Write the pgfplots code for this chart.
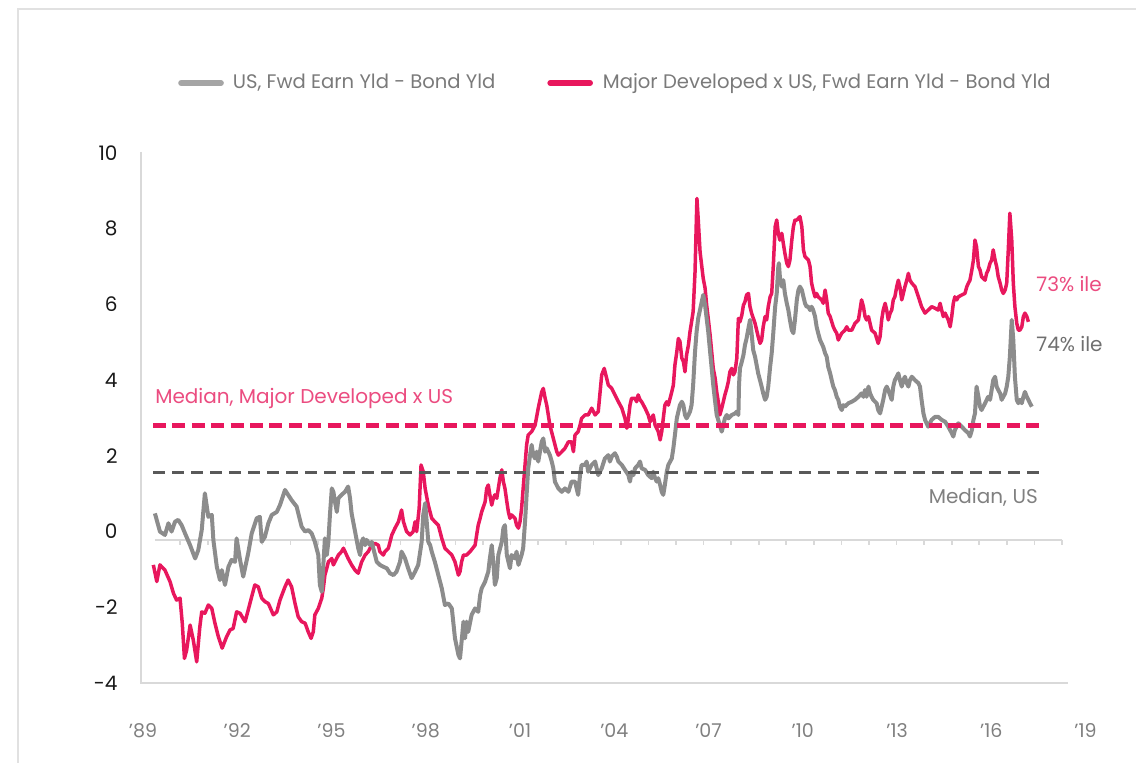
\documentclass[border=0pt]{standalone}
\usepackage{fontspec}
\setmainfont{Poppins}
\usepackage{pgfplots}
\usepackage{pgfplotstable}
\pgfplotsset{compat=1.18}
\definecolor{pinkc}{HTML}{E8175D}
\definecolor{grayc}{HTML}{8C8C8C}
\definecolor{darkgrayc}{HTML}{595959}
\definecolor{pinktext}{HTML}{EB4C80}
\definecolor{graytext}{HTML}{6F6F6F}
\definecolor{ticktext}{HTML}{808080}
\definecolor{framec}{HTML}{D9D9D9}
\definecolor{legendgray}{HTML}{A5A5A5}
\definecolor{legendtext}{HTML}{7A7A7A}

\pgfplotstableread{
x y
1989.38 0.48
1989.54 0.00
1989.70 -0.09
1989.81 0.22
1989.91 0.00
1990.02 0.26
1990.12 0.31
1990.23 0.17
1990.34 -0.05
1990.50 -0.36
1990.66 -0.71
1990.76 -0.49
1990.87 0.04
1990.97 1.01
1991.08 0.39
1991.19 0.44
1991.24 -0.22
1991.35 -0.93
1991.45 -1.28
1991.51 -1.02
1991.61 -1.41
1991.72 -0.93
1991.82 -0.75
1991.93 -0.80
1991.98 -0.18
1992.09 -0.75
1992.19 -1.19
1992.35 -0.57
1992.46 -0.05
1992.62 0.35
1992.72 0.39
1992.78 -0.27
1992.88 -0.14
1992.99 0.22
1993.10 0.44
1993.26 0.52
1993.36 0.70
1993.52 1.10
1993.62 0.97
1993.73 0.83
1993.89 0.66
1994.05 0.13
1994.16 0.00
1994.26 0.04
1994.37 -0.05
1994.47 -0.27
1994.58 -0.62
1994.63 -1.41
1994.69 -1.59
1994.74 -0.88
1994.79 -0.18
1994.85 -0.62
1994.90 -0.27
1994.95 0.44
1995.01 1.14
1995.06 1.05
1995.11 0.79
1995.17 0.52
1995.22 0.88
1995.32 0.97
1995.43 1.05
1995.53 1.19
1995.59 0.88
1995.64 0.48
1995.75 0.00
1995.85 -0.44
1995.91 -0.62
1995.96 -0.27
1996.01 -0.18
1996.07 -0.36
1996.12 -0.22
1996.23 -0.36
1996.28 -0.27
1996.33 -0.44
1996.44 -0.80
1996.54 -0.88
1996.65 -0.93
1996.76 -0.97
1996.86 -1.10
1996.97 -1.15
1997.07 -1.06
1997.18 -0.80
1997.23 -0.53
1997.34 -0.71
1997.44 -0.97
1997.55 -1.23
1997.66 -1.06
1997.76 -0.88
1997.87 -0.27
1997.92 0.44
1997.98 0.75
1998.03 0.26
1998.08 -0.27
1998.14 -0.36
1998.19 -0.53
1998.29 -0.80
1998.40 -1.15
1998.51 -1.50
1998.61 -1.94
1998.72 -1.90
1998.83 -2.03
1998.93 -2.82
1999.04 -3.26
1999.09 -3.35
1999.14 -2.91
1999.20 -2.38
1999.25 -2.82
1999.30 -2.38
1999.35 -2.65
1999.46 -2.20
1999.57 -2.03
1999.67 -2.12
1999.73 -1.68
1999.78 -1.50
1999.89 -1.32
1999.99 -1.06
2000.04 -0.71
2000.10 -0.36
2000.15 -0.80
2000.20 -1.41
2000.26 -1.23
2000.31 -0.62
2000.42 -0.27
2000.47 0.09
2000.52 0.17
2000.58 -0.62
2000.68 -0.97
2000.73 -0.62
2000.84 -0.71
2000.89 -0.53
2000.95 -0.88
2001.05 -0.62
2001.10 -0.44
2001.16 0.26
2001.21 0.97
2001.26 1.67
2001.32 2.02
2001.37 2.29
2001.42 2.02
2001.48 1.93
2001.53 2.11
2001.58 1.85
2001.69 2.37
2001.74 2.46
2001.80 2.11
2001.85 2.20
2001.95 2.02
2002.01 1.85
2002.06 1.67
2002.11 1.32
2002.22 1.14
2002.33 1.05
2002.43 1.14
2002.54 1.05
2002.64 1.32
2002.75 1.32
2002.85 0.97
2002.91 1.49
2002.96 1.76
2003.07 1.76
2003.12 1.85
2003.17 1.58
2003.28 1.76
2003.39 1.85
2003.49 1.49
2003.60 1.67
2003.70 1.93
2003.81 2.02
2003.86 1.85
2003.92 1.98
2004.02 2.07
2004.08 1.98
2004.13 1.85
2004.24 1.76
2004.34 1.63
2004.45 1.49
2004.50 1.32
2004.55 1.58
2004.61 1.49
2004.66 1.67
2004.76 1.76
2004.82 1.85
2004.87 1.67
2004.98 1.63
2005.08 1.49
2005.19 1.41
2005.24 1.58
2005.30 1.41
2005.35 1.32
2005.40 1.41
2005.46 1.23
2005.51 1.05
2005.56 0.97
2005.61 1.23
2005.67 1.58
2005.72 1.76
2005.83 1.93
2005.88 2.20
2005.93 2.55
2005.99 2.99
2006.04 3.17
2006.09 3.34
2006.15 3.43
2006.20 3.34
2006.25 3.08
2006.30 2.99
2006.36 3.08
2006.41 3.17
2006.46 3.34
2006.51 3.87
2006.57 4.75
2006.62 5.28
2006.67 5.63
2006.76 5.98
2006.83 6.25
2006.89 5.98
2006.94 5.63
2006.99 5.28
2007.05 4.75
2007.10 4.31
2007.15 3.87
2007.21 3.43
2007.26 3.08
2007.36 2.81
2007.42 2.64
2007.47 2.81
2007.52 2.99
2007.58 3.08
2007.63 2.99
2007.74 3.08
2007.84 3.12
2007.90 3.17
2007.95 3.08
2007.97 3.87
2008.00 4.31
2008.06 4.49
2008.11 4.66
2008.16 4.93
2008.21 5.10
2008.27 5.37
2008.32 5.59
2008.37 5.24
2008.42 4.80
2008.48 4.62
2008.58 4.18
2008.69 3.83
2008.74 3.65
2008.80 3.48
2008.85 3.56
2008.90 3.83
2008.96 4.35
2009.01 4.71
2009.06 5.24
2009.12 5.94
2009.17 6.29
2009.22 7.00
2009.24 7.09
2009.27 6.73
2009.33 6.47
2009.38 6.64
2009.43 6.29
2009.49 6.03
2009.54 5.85
2009.59 5.59
2009.65 5.32
2009.70 5.24
2009.75 5.59
2009.81 6.12
2009.86 6.38
2009.91 6.47
2009.97 6.38
2010.02 6.20
2010.07 6.03
2010.12 5.94
2010.18 5.94
2010.23 5.85
2010.28 5.94
2010.33 5.85
2010.39 5.68
2010.44 5.41
2010.49 5.24
2010.55 5.06
2010.65 4.88
2010.71 4.71
2010.76 4.62
2010.81 4.35
2010.87 4.18
2010.92 4.00
2010.97 3.83
2011.02 3.74
2011.08 3.56
2011.13 3.48
2011.18 3.30
2011.24 3.21
2011.29 3.34
2011.34 3.30
2011.45 3.39
2011.56 3.43
2011.66 3.48
2011.77 3.56
2011.87 3.65
2011.93 3.56
2011.98 3.74
2012.03 3.56
2012.09 3.83
2012.14 3.65
2012.19 3.56
2012.24 3.48
2012.35 3.39
2012.40 3.21
2012.46 3.12
2012.51 3.30
2012.56 3.48
2012.62 3.74
2012.67 3.83
2012.72 3.74
2012.83 3.48
2012.88 3.83
2012.93 4.00
2012.99 4.09
2013.04 4.18
2013.09 4.00
2013.15 3.83
2013.20 4.00
2013.25 4.09
2013.31 3.92
2013.36 3.83
2013.41 4.00
2013.47 4.09
2013.57 4.00
2013.68 3.92
2013.73 3.83
2013.78 3.48
2013.84 3.12
2013.89 2.95
2013.94 2.86
2013.99 2.77
2014.10 2.95
2014.21 3.03
2014.31 3.03
2014.42 2.95
2014.53 2.90
2014.63 2.77
2014.74 2.60
2014.79 2.51
2014.84 2.68
2014.95 2.86
2015.06 2.77
2015.16 2.68
2015.27 2.60
2015.32 2.51
2015.38 2.68
2015.43 2.95
2015.48 3.12
2015.53 3.83
2015.59 3.56
2015.64 3.30
2015.69 3.21
2015.80 3.39
2015.90 3.56
2015.96 3.48
2016.01 3.74
2016.06 4.00
2016.12 4.09
2016.17 3.83
2016.22 3.74
2016.28 3.65
2016.33 3.48
2016.38 3.56
2016.44 3.65
2016.49 3.83
2016.54 4.09
2016.59 4.62
2016.65 5.59
2016.70 5.06
2016.75 4.09
2016.81 3.48
2016.86 3.39
2016.91 3.48
2016.97 3.39
2017.02 3.56
2017.07 3.69
2017.13 3.56
2017.18 3.48
2017.23 3.39
2017.29 3.30
}\usdata

\pgfplotstableread{
x y
1989.33 -0.88
1989.44 -1.32
1989.54 -0.88
1989.70 -1.02
1989.86 -1.32
1989.97 -1.63
1990.07 -1.81
1990.18 -1.76
1990.25 -2.42
1990.32 -3.35
1990.39 -3.13
1990.50 -2.47
1990.60 -2.86
1990.71 -3.44
1990.81 -2.51
1990.87 -2.12
1990.97 -2.16
1991.08 -1.94
1991.19 -2.03
1991.29 -2.42
1991.40 -2.78
1991.52 -3.08
1991.66 -2.78
1991.77 -2.60
1991.87 -2.56
1991.98 -2.12
1992.09 -2.16
1992.25 -2.38
1992.35 -2.07
1992.46 -1.72
1992.56 -1.41
1992.67 -1.46
1992.78 -1.76
1992.88 -1.85
1992.99 -1.90
1993.15 -2.20
1993.26 -2.12
1993.36 -1.81
1993.52 -1.46
1993.62 -1.28
1993.73 -1.46
1993.84 -1.90
1993.94 -2.25
1994.05 -2.38
1994.16 -2.42
1994.26 -2.65
1994.35 -2.82
1994.42 -2.65
1994.47 -2.20
1994.58 -2.03
1994.69 -1.76
1994.74 -1.50
1994.79 -1.15
1994.85 -0.97
1994.90 -0.80
1995.01 -0.71
1995.06 -0.88
1995.11 -0.80
1995.22 -0.62
1995.32 -0.53
1995.38 -0.44
1995.43 -0.53
1995.53 -0.71
1995.64 -0.88
1995.75 -1.02
1995.85 -1.10
1995.96 -0.80
1996.07 -0.62
1996.17 -0.53
1996.28 -0.36
1996.38 -0.31
1996.49 -0.36
1996.54 -0.53
1996.65 -0.62
1996.70 -0.53
1996.81 -0.44
1996.92 -0.09
1997.02 0.09
1997.13 0.26
1997.23 0.57
1997.29 0.26
1997.39 0.00
1997.50 -0.09
1997.60 0.00
1997.66 0.26
1997.71 0.00
1997.79 0.61
1997.85 1.76
1997.92 1.58
1997.98 1.14
1998.08 0.70
1998.19 0.35
1998.29 0.26
1998.40 0.17
1998.51 -0.18
1998.61 -0.44
1998.72 -0.53
1998.83 -0.62
1998.93 -0.80
1999.04 -1.15
1999.09 -1.06
1999.14 -0.80
1999.20 -0.62
1999.30 -0.62
1999.41 -0.53
1999.57 -0.36
1999.62 -0.09
1999.67 0.17
1999.73 0.35
1999.78 0.52
1999.89 0.79
1999.94 1.14
1999.99 1.23
2000.04 0.97
2000.10 0.70
2000.15 0.88
2000.20 0.97
2000.26 0.88
2000.36 1.41
2000.42 1.63
2000.47 1.32
2000.52 1.14
2000.58 0.79
2000.63 0.52
2000.68 0.35
2000.73 0.44
2000.84 0.35
2000.89 0.17
2000.95 0.09
2001.00 0.26
2001.05 0.61
2001.10 1.14
2001.16 1.76
2001.21 2.29
2001.26 2.55
2001.37 2.64
2001.48 2.81
2001.58 3.26
2001.69 3.69
2001.74 3.78
2001.80 3.52
2001.85 3.34
2001.90 3.08
2001.95 2.81
2002.06 2.46
2002.17 2.11
2002.22 2.02
2002.33 2.11
2002.43 2.20
2002.54 2.37
2002.64 2.37
2002.70 2.11
2002.75 2.55
2002.85 2.64
2002.91 2.81
2002.96 2.99
2003.07 3.08
2003.17 3.08
2003.28 3.26
2003.39 3.08
2003.49 3.17
2003.60 4.14
2003.68 4.31
2003.81 3.87
2003.92 3.78
2004.02 3.61
2004.13 3.43
2004.24 3.26
2004.34 2.99
2004.40 2.73
2004.45 2.99
2004.50 3.34
2004.55 3.52
2004.66 3.52
2004.71 3.43
2004.76 3.61
2004.82 3.48
2004.87 3.43
2004.98 3.26
2005.08 3.08
2005.14 2.90
2005.19 2.99
2005.24 3.08
2005.30 2.81
2005.40 2.64
2005.46 2.42
2005.51 2.64
2005.56 2.99
2005.61 3.34
2005.67 3.43
2005.72 3.34
2005.83 3.69
2005.88 3.87
2005.93 4.40
2005.99 4.75
2006.04 5.10
2006.09 5.02
2006.15 4.58
2006.20 4.49
2006.25 4.22
2006.30 4.66
2006.36 4.93
2006.41 5.28
2006.46 5.54
2006.51 5.81
2006.57 6.86
2006.60 7.83
2006.63 8.80
2006.67 8.27
2006.73 7.39
2006.78 7.04
2006.83 6.69
2006.89 6.43
2006.94 5.98
2006.99 5.63
2007.05 5.19
2007.10 4.75
2007.15 4.31
2007.21 4.05
2007.26 3.69
2007.31 3.43
2007.36 3.08
2007.42 3.26
2007.47 3.43
2007.52 3.61
2007.58 3.78
2007.63 3.96
2007.68 4.22
2007.74 4.31
2007.79 4.14
2007.84 4.22
2007.90 4.58
2007.95 5.63
2008.00 5.54
2008.06 5.72
2008.11 5.98
2008.16 6.07
2008.21 6.25
2008.27 6.29
2008.32 5.94
2008.37 5.77
2008.48 5.50
2008.58 5.15
2008.64 4.97
2008.69 5.06
2008.74 5.41
2008.80 5.68
2008.85 5.59
2008.90 5.94
2008.96 6.20
2009.01 6.29
2009.06 7.00
2009.12 8.05
2009.17 8.23
2009.22 7.88
2009.27 7.70
2009.33 7.88
2009.38 7.61
2009.43 7.35
2009.49 7.09
2009.54 7.00
2009.59 7.17
2009.65 7.70
2009.70 8.05
2009.75 8.23
2009.81 8.23
2009.91 8.32
2009.97 8.05
2010.02 7.44
2010.07 7.26
2010.18 7.17
2010.23 7.00
2010.28 6.56
2010.33 6.38
2010.39 6.20
2010.44 6.29
2010.49 6.20
2010.60 6.12
2010.65 6.03
2010.71 6.38
2010.76 6.12
2010.81 5.77
2010.87 5.68
2010.97 5.41
2011.02 5.32
2011.08 5.24
2011.13 5.06
2011.18 5.15
2011.24 5.24
2011.34 5.32
2011.40 5.41
2011.45 5.32
2011.56 5.32
2011.66 5.50
2011.77 5.59
2011.82 5.85
2011.87 6.12
2011.93 5.94
2011.98 5.68
2012.03 5.59
2012.09 5.68
2012.14 5.50
2012.19 5.32
2012.30 5.24
2012.40 4.97
2012.46 5.15
2012.51 5.59
2012.56 5.85
2012.62 6.03
2012.67 5.85
2012.72 5.59
2012.78 5.77
2012.83 5.85
2012.88 6.12
2012.93 6.20
2012.99 6.47
2013.04 6.64
2013.09 6.47
2013.15 6.12
2013.20 6.29
2013.25 6.47
2013.31 6.64
2013.36 6.82
2013.41 6.64
2013.47 6.56
2013.57 6.47
2013.68 6.20
2013.78 5.94
2013.89 5.77
2013.99 5.85
2014.10 5.94
2014.21 5.90
2014.31 5.85
2014.37 6.03
2014.42 5.85
2014.47 5.68
2014.53 5.77
2014.63 5.59
2014.69 5.41
2014.74 5.68
2014.79 6.03
2014.84 6.20
2014.90 6.12
2014.95 6.20
2015.06 6.25
2015.16 6.29
2015.22 6.47
2015.27 6.56
2015.32 6.64
2015.38 6.91
2015.43 7.17
2015.48 7.70
2015.53 7.52
2015.59 7.00
2015.64 6.91
2015.69 6.73
2015.80 6.64
2015.85 6.82
2015.90 6.91
2015.96 7.09
2016.01 7.17
2016.06 7.44
2016.12 7.17
2016.17 7.00
2016.22 6.73
2016.28 6.56
2016.33 6.38
2016.38 6.29
2016.44 6.38
2016.49 6.56
2016.54 7.44
2016.59 8.41
2016.65 7.70
2016.70 6.56
2016.75 5.94
2016.81 5.50
2016.86 5.32
2016.91 5.32
2016.97 5.41
2017.02 5.68
2017.07 5.77
2017.13 5.68
2017.18 5.54
}\mddata

\begin{document}
\begin{tikzpicture}
\path[use as bounding box] (-70.5bp,-40bp) rectangle (497.5bp,341.5bp);
\draw[framec!80, line width=0.6bp] (-61.5bp,-40bp) -- (-61.5bp,337bp) -- (497.5bp,337bp);
\begin{axis}[
  at={(0,0)}, anchor=south west,
  scale only axis, width=475.43bp, height=265bp,
  xmin=1988.937, xmax=2019.2, ymin=-4, ymax=10,
  axis line style={draw=none},
  major tick length=0pt, minor tick num=0,
  xtick={1989,1992,1995,1998,2001,2004,2007,2010,2013,2016,2019},
  xticklabels={'89,'92,'95,'98,'01,'04,'07,'10,'13,'16,'19},
  xticklabel style={font=\fontsize{9.5bp}{11bp}\selectfont, text=ticktext, yshift=-16.8bp},
  ytick={-4,-2,0,2,4,6,8,10},
  yticklabel style={font=\fontsize{10bp}{12bp}\selectfont, text=black!90, xshift=-8.2bp},
  /pgf/number format/assume math mode=true,
  clip=false,
  legend columns=2,
  legend image code/.code={\draw[#1, line cap=round] (0bp,0bp) -- (20bp,0bp);},
  legend style={draw=none, fill=none, at={(rel axis cs:0.5,1.1321)}, anchor=center,
    font=\fontsize{9.8bp}{12bp}\selectfont, inner sep=0pt,
    /tikz/every even column/.append style={column sep=24bp}},
]
\addlegendimage{line width=2.8bp, color=legendgray}
\addlegendentry{\hspace{2.5bp}\textcolor{legendtext}{US, Fwd Earn Yld - Bond Yld}}
\addlegendimage{line width=2.8bp, color=pinkc}
\addlegendentry{\hspace{3bp}\textcolor{legendtext}{Major Developed x US, Fwd Earn Yld - Bond Yld}}

% frame and zero line
\draw[framec, line width=1bp] (axis cs:1988.937,10.03) -- (axis cs:1988.937,-4) -- (axis cs:2018.44,-4);
\draw[framec, line width=1bp] (axis cs:1989.38,-0.22) -- (axis cs:2018.25,-0.22);
\pgfplotsinvokeforeach{1990.18,1991.06,1991.93,1992.81,1993.69,1994.57,1995.44,1996.32,1997.20,1998.07,1998.95,1999.83,2000.70,2001.58,2002.46,2003.34,2004.21,2005.09,2005.97,2006.84,2007.72,2008.60,2009.47,2010.35,2011.23,2012.11,2012.98,2013.86,2014.74,2015.61,2016.49,2017.37,2018.24}{
  \draw[framec, line width=0.8bp] (axis cs:#1,-0.22) -- ([yshift=-2.5bp]axis cs:#1,-0.22);
}

\addplot[forget plot, pinkc, line width=1.75bp, line join=round] table[x=x,y=y] {\mddata};
\addplot[forget plot, grayc, line width=2bp, line join=round] table[x=x,y=y] {\usdata};

\addplot[forget plot, pinkc, line width=2.5bp, dash pattern=on 6.5bp off 3.2bp] coordinates {(1989.32,2.81) (2017.61,2.81)};
\addplot[forget plot, darkgrayc, line width=1.75bp, dash pattern=on 6bp off 3.5bp] coordinates {(1989.32,1.56) (2017.61,1.56)};

\node[anchor=base west, inner sep=0pt, text=pinktext, font=\fontsize{10bp}{12bp}\selectfont] at (axis cs:1989.38,3.39) {Median, Major Developed x US};
\node[anchor=base east, inner sep=0pt, text=ticktext, font=\fontsize{10bp}{12bp}\selectfont] at (axis cs:2017.49,0.73) {Median, US};
\node[anchor=base west, inner sep=0pt, text=pinktext, font=\fontsize{10bp}{12bp}\selectfont] at (axis cs:2017.42,6.35) {73\% ile};
\node[anchor=base west, inner sep=0pt, text=graytext, font=\fontsize{10bp}{12bp}\selectfont] at (axis cs:2017.42,4.75) {74\% ile};
\end{axis}
\end{tikzpicture}
\end{document}
